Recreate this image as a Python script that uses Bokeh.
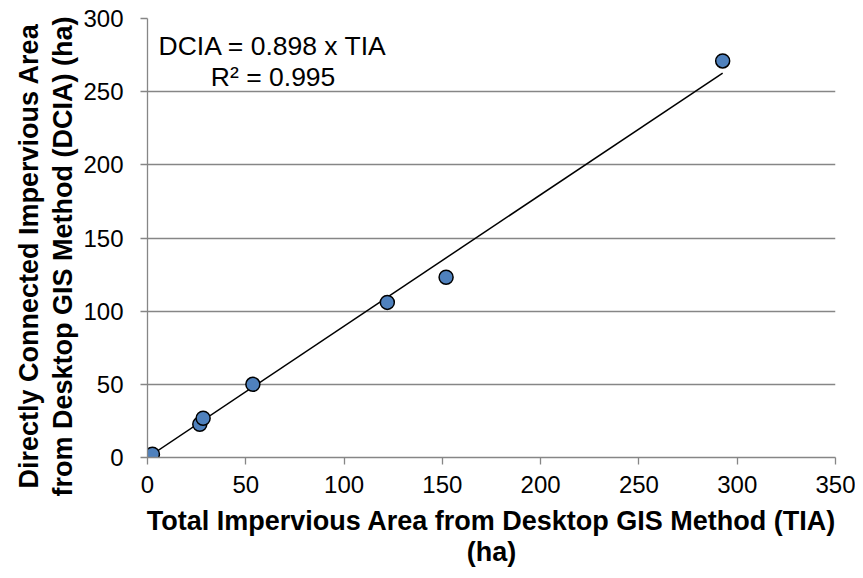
from bokeh.plotting import figure
from bokeh.models import Range1d, FixedTicker, Label, ColumnDataSource, Title
from bokeh.embed import file_html
from bokeh.resources import INLINE

# Data
tia = [2.5, 26.6, 28.3, 53.6, 122.0, 151.9, 292.6]
dcia = [2.3, 22.7, 26.8, 50.0, 106.0, 123.2, 271.0]
slope = 0.898
r2 = 0.995
x_ticks = [0, 50, 100, 150, 200, 250, 300, 350]
y_ticks = [0, 50, 100, 150, 200, 250, 300]
x_title = "Total Impervious Area from Desktop GIS Method (TIA)\n(ha)"
y_title = ["Directly Connected Impervious Area", "from Desktop GIS Method (DCIA) (ha)"]

FONT = "Liberation Sans"
GRID = "#868686"

p = figure(width=855, height=570, output_backend="svg", toolbar_location=None,
           x_range=Range1d(0, 350), y_range=Range1d(0, 300),
           min_border_left=147, min_border_right=20, min_border_top=18,
           min_border_bottom=111)
p.outline_line_color = None
p.background_fill_color = "white"

p.xgrid.visible = False
p.ygrid.ticker = FixedTicker(ticks=y_ticks)
p.ygrid.grid_line_color = GRID
p.ygrid.grid_line_width = 1.3

for ax, ticks in ((p.xaxis, x_ticks), (p.yaxis, y_ticks)):
    ax.ticker = FixedTicker(ticks=ticks)
    ax.axis_line_color = GRID
    ax.axis_line_width = 1.3
    ax.major_tick_line_color = GRID
    ax.major_tick_line_width = 1.3
    ax.major_tick_out = 7
    ax.major_tick_in = 0
    ax.minor_tick_line_color = None
    ax.major_label_text_font = FONT
    ax.major_label_text_font_size = "24px"
    ax.major_label_text_color = "black"
p.xaxis.major_label_standoff = 11
p.yaxis.major_label_standoff = 17

p.xaxis.axis_label = x_title
p.xaxis.axis_label_text_font = FONT
p.xaxis.axis_label_text_font_size = "27px"
p.xaxis.axis_label_text_font_style = "bold"
p.xaxis.axis_label_text_color = "black"
p.xaxis.axis_label_text_line_height = 1.05
p.xaxis.axis_label_standoff = 10

# y-axis title, two lines (inner line first)
for txt, so, off in ((y_title[1], 5, -39), (y_title[0], 0, -31)):
    p.add_layout(Title(text=txt, align="left", offset=off, standoff=so,
                       text_font=FONT, text_font_size="27px", text_font_style="bold",
                       text_color="black"), "left")

# trendline through origin
line_x = [0, max(tia)]
line_y = [slope * v for v in line_x]
p.line(line_x, line_y, line_color="black", line_width=1.5)

src = ColumnDataSource(dict(x=tia, y=dcia))
p.scatter("x", "y", source=src, size=14, fill_color="#4F81BD",
          line_color="black", line_width=1.5)

# equation annotation
p.add_layout(Label(x=63.9, y=281.2, text=f"DCIA = {slope} x TIA", text_align="center",
                   text_baseline="alphabetic", text_font=FONT, text_font_size="26.5px",
                   text_color="black"))
p.add_layout(Label(x=63.9, y=259.7, text=f"R² = {r2}", text_align="center",
                   text_baseline="alphabetic", text_font=FONT, text_font_size="26.5px",
                   text_color="black"))

open("out.html", "w").write(file_html(p, INLINE))
